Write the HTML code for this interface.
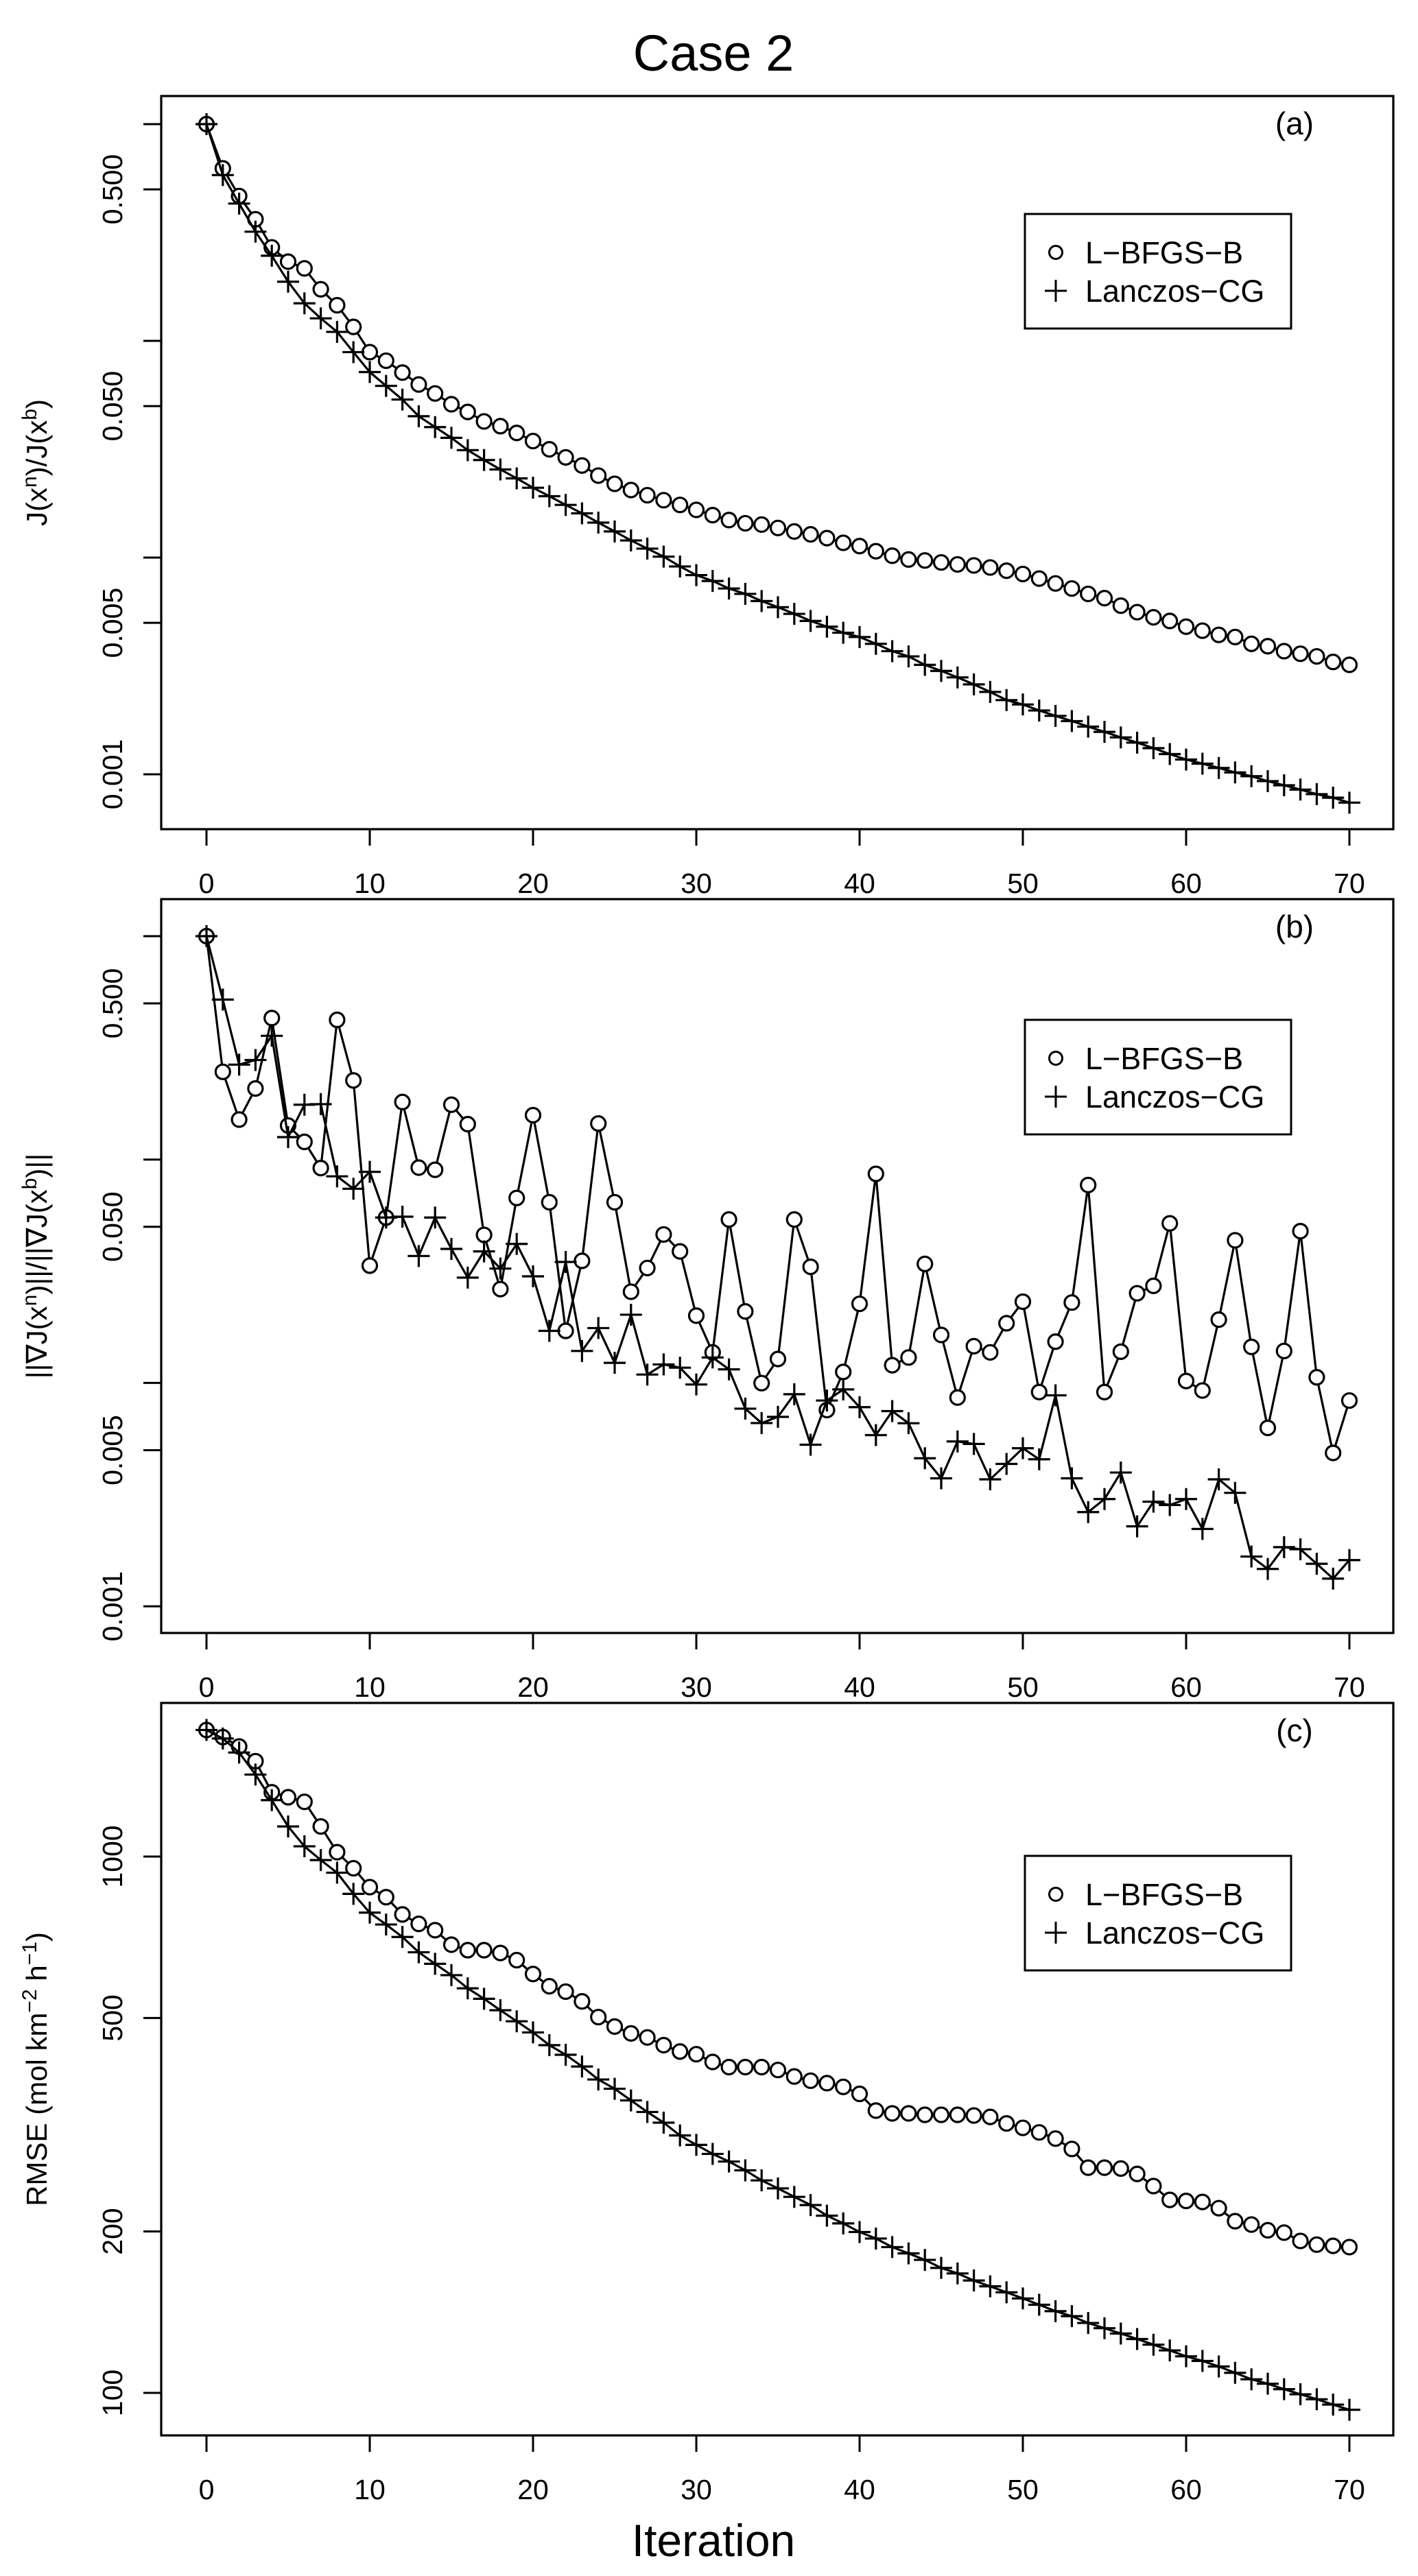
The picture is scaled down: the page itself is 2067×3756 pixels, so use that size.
<!DOCTYPE html>
<html><head><meta charset="utf-8"><title>Case 2</title>
<style>
html,body{margin:0;padding:0;background:#fff;}
svg{display:block;font-family:"Liberation Sans",Arial,sans-serif;}
</style></head>
<body>
<svg id="fig" xmlns="http://www.w3.org/2000/svg" width="2067" height="3756" viewBox="0 0 2067 3756">
<rect x="0" y="0" width="2067" height="3756" fill="#fff"/>
<text x="1040" y="103" font-size="74" text-anchor="middle">Case 2</text>
<text x="1040" y="3727" font-size="66" text-anchor="middle">Iteration</text>
</svg>
<script>
const iterations = Array.from({length:71},(_,i)=>i);
const xTicks = [0,10,20,30,40,50,60,70];

const costLBFGS = [1.0,0.625,0.466,0.364,0.270,0.232,0.216,0.173,0.146,0.116,0.0887,0.081,0.0714,0.0629,0.0572,0.051,0.047,0.0425,0.0404,0.0376,0.0345,0.0316,0.029,0.0266,0.0239,0.0219,0.0205,0.0194,0.0184,0.0175,0.0166,0.0157,0.0149,0.0144,0.0142,0.0137,0.0132,0.0128,0.0123,0.0117,0.0113,0.0107,0.0102,0.0098,0.0097,0.0095,0.0093,0.0092,0.009,0.0087,0.0084,0.008,0.0076,0.0072,0.0068,0.0065,0.006,0.0056,0.0053,0.0051,0.0048,0.0046,0.0044,0.0043,0.004,0.0039,0.0037,0.0036,0.0035,0.0033,0.0032];
const costLanczos = [1.0,0.582,0.43,0.319,0.247,0.1875,0.149,0.127,0.110,0.0887,0.0718,0.062,0.0536,0.0449,0.040,0.0357,0.0313,0.0282,0.0255,0.0232,0.021,0.0192,0.0175,0.016,0.0145,0.0132,0.012,0.011,0.0101,0.0091,0.0083,0.0078,0.0072,0.0068,0.0063,0.0059,0.0055,0.0051,0.0048,0.0045,0.0043,0.004,0.0037,0.0035,0.0032,0.003,0.0028,0.0026,0.0024,0.0022,0.0021,0.00197,0.00186,0.00176,0.00166,0.00157,0.00148,0.0014,0.00132,0.00124,0.00117,0.00112,0.00107,0.00102,0.00098,0.00093,0.00089,0.00085,0.00081,0.00078,0.00074];

const gradLBFGS = [1.0,0.247,0.151,0.208,0.430,0.142,0.120,0.0916,0.422,0.226,0.0335,0.055,0.181,0.092,0.090,0.176,0.144,0.046,0.0263,0.0673,0.158,0.0644,0.0171,0.0352,0.145,0.0644,0.0256,0.0327,0.0462,0.0388,0.020,0.0137,0.0539,0.0209,0.00998,0.0128,0.0539,0.0331,0.00756,0.0112,0.0226,0.0863,0.012,0.013,0.0341,0.0164,0.0086,0.0146,0.0137,0.0185,0.0231,0.0091,0.0153,0.0229,0.0769,0.0091,0.0138,0.0252,0.0272,0.0518,0.0102,0.00925,0.0192,0.0435,0.0145,0.00629,0.0139,0.0478,0.0106,0.00486,0.00834];
const gradLanczos = [1.0,0.52,0.266,0.279,0.358,0.126,0.176,0.177,0.0841,0.074,0.0881,0.055,0.0555,0.037,0.055,0.0398,0.0296,0.0388,0.0325,0.0419,0.030,0.0171,0.0348,0.0139,0.0176,0.0123,0.0202,0.0109,0.0121,0.0117,0.00984,0.013,0.0115,0.00767,0.00661,0.00705,0.0089,0.00529,0.00834,0.00935,0.00779,0.00584,0.00748,0.0066,0.0046,0.00374,0.00547,0.00533,0.0037,0.00434,0.0051,0.00455,0.0088,0.00374,0.00264,0.00302,0.00397,0.00228,0.00294,0.00284,0.00302,0.00222,0.0037,0.00322,0.00167,0.00147,0.00184,0.0018,0.00155,0.00133,0.00161];

const rmseLBFGS = [1722,1670,1604,1506,1318,1290,1265,1138,1019,951,877,840,780,749,729,685,669,669,661,641,604,573,560,537,502,482,468,460,445,433,428,414,405,405,405,400,389,382,378,372,361,336,332,332,330,330,330,329,327,318,312,306,298,285,263,263,262,256,243,229,228,227,221,209,206,201,199,192,189,188,187];
const rmseLanczos = [1722,1660,1563,1422,1274,1138,1045,985,933,852,786,747,708,663,631,601,568,543,517,493,470,445,427,406,384,369,351,334,319,302,290,279,270,260,249,240.6,232,224,214,207,199.5,194,187,182,177,171,167,162,158,154,150,146,142,139,135,132,129,126,123,120,117,114.7,112,109,106,104,101.6,99.4,97.3,95.1,93];

const logTicksAB = [1,0.5,0.1,0.05,0.01,0.005,0.001];
const logLabelsAB = ["","0.500","","0.050","","0.005","0.001"];
const ticksC = [1000,500,200,100];
const labelsC = ["1000","500","200","100"];

const NS = "http://www.w3.org/2000/svg";
const svg = document.getElementById('fig');
const X0 = 301, DX = 23.8, BOXL = 235, BOXR = 2031;
function xScale(i){ return X0 + DX*i; }
function mk(tag, attrs, parent){
  const e = document.createElementNS(NS, tag);
  for (const k in attrs) e.setAttribute(k, attrs[k]);
  (parent||svg).appendChild(e);
  return e;
}

function panel(cfg){
  const g = mk('g', {});
  
  
  const y = cfg.yScale;
  const box = mk('rect', {x:BOXL, y:cfg.top, width:BOXR-BOXL, height:cfg.bottom-cfg.top, fill:'none', stroke:'#000', 'stroke-width':3.2}, g);
  
  
  xTicks.forEach(t=>{
    const tk = mk('line', {x1:xScale(t), x2:xScale(t), y1:cfg.bottom, y2:cfg.bottom+24, stroke:'#000', 'stroke-width':3}, g);
    
    
    const lb = mk('text', {x:xScale(t), y:cfg.bottom+93, 'font-size':41, 'text-anchor':'middle'}, g);
    lb.textContent = String(t);
    
    
  });
  cfg.ticks.forEach((t,k)=>{
    const yy = y(t);
    const tk = mk('line', {x1:BOXL-26, x2:BOXL, y1:yy, y2:yy, stroke:'#000', 'stroke-width':3}, g);
    
    
    if (cfg.labels[k]) {
      const lb = mk('text', {x:0, y:0, 'font-size':41, 'text-anchor':'middle', transform:'translate(178,'+yy+') rotate(-90)'}, g);
      lb.textContent = cfg.labels[k];
      
      
    }
  });
  const cy = (cfg.top+cfg.bottom)/2;
  const tt = mk('text', {x:0, y:0, 'font-size':42, 'text-anchor':'middle', transform:'translate(68,'+cy+') rotate(-90)'}, g);
  tt.innerHTML = cfg.title;
  
  
  const pl = mk('text', {x:1887, y:cfg.top+56, 'font-size':46, 'text-anchor':'middle'}, g);
  pl.textContent = cfg.tag;
  
  
  [[cfg.s1,'circle','l-bfgs-b'],[cfg.s2,'plus','lanczos-cg']].forEach(([data,mark,nm])=>{
    const pts = data.map((v,i)=>xScale(iterations[i]).toFixed(1)+','+y(v).toFixed(1)).join(' ');
    const pl2 = mk('polyline', {points:pts, fill:'none', stroke:'#000', 'stroke-width':3.2, 'stroke-linejoin':'round'}, g);
    
    
    data.forEach((v,i)=>{
      const px = xScale(iterations[i]), py = y(v);
      let m;
      if (mark==='circle') {
        m = mk('circle', {cx:px, cy:py, r:10.5, fill:'#fff', stroke:'#000', 'stroke-width':3.2}, g);
      } else {
        m = mk('path', {d:'M'+(px-16)+' '+py+'H'+(px+16)+'M'+px+' '+(py-16)+'V'+(py+16), stroke:'#000', 'stroke-width':3.2, fill:'none'}, g);
      }
      
      
    });
  });
  const lg = mk('g', {}, g);
  
  
  const lt = cfg.legTop;
  mk('rect', {x:1494, y:lt, width:388, height:167, fill:'#fff', stroke:'#000', 'stroke-width':3}, lg);
  const c1 = mk('circle', {cx:1539, cy:lt+56, r:9.5, fill:'none', stroke:'#000', 'stroke-width':3}, lg);
  
  
  const p1 = mk('path', {d:'M1523 '+(lt+112)+'H1555M1539 '+(lt+96)+'V'+(lt+128), stroke:'#000', 'stroke-width':3}, lg);
  
  
  const t1 = mk('text', {x:1582, y:lt+72, 'font-size':45}, lg);
  t1.textContent = 'L\u2212BFGS\u2212B';
  
  
  const t2 = mk('text', {x:1582, y:lt+128, 'font-size':45}, lg);
  t2.textContent = 'Lanczos\u2212CG';
  
  
}

panel({name:'panel-a-cost', tag:'(a)', top:140, bottom:1209, legTop:312,
  yScale:v=>181-316*Math.log10(v), ticks:logTicksAB, labels:logLabelsAB,
  title:'J(x<tspan dy="-15" font-size="30">n</tspan><tspan dy="15">)/J(x</tspan><tspan dy="-15" font-size="30">b</tspan><tspan dy="15">)</tspan>',
  s1:costLBFGS, s2:costLanczos});
panel({name:'panel-b-gradient', tag:'(b)', top:1311, bottom:2381, legTop:1487,
  yScale:v=>1365-325.7*Math.log10(v), ticks:logTicksAB, labels:logLabelsAB,
  title:'||\u2207J(x<tspan dy="-15" font-size="30">n</tspan><tspan dy="15">)||/||\u2207J(x</tspan><tspan dy="-15" font-size="30">b</tspan><tspan dy="15">)||</tspan>',
  s1:gradLBFGS, s2:gradLanczos});
panel({name:'panel-c-rmse', tag:'(c)', top:2483, bottom:3551, legTop:2706,
  yScale:v=>3489-782*Math.log10(v/100), ticks:ticksC, labels:labelsC,
  title:'RMSE  (mol km<tspan dy="-15" font-size="30">\u22122</tspan><tspan dy="15"> h</tspan><tspan dy="-15" font-size="30">\u22121</tspan><tspan dy="15">)</tspan>',
  s1:rmseLBFGS, s2:rmseLanczos});
</script>
</body></html>
